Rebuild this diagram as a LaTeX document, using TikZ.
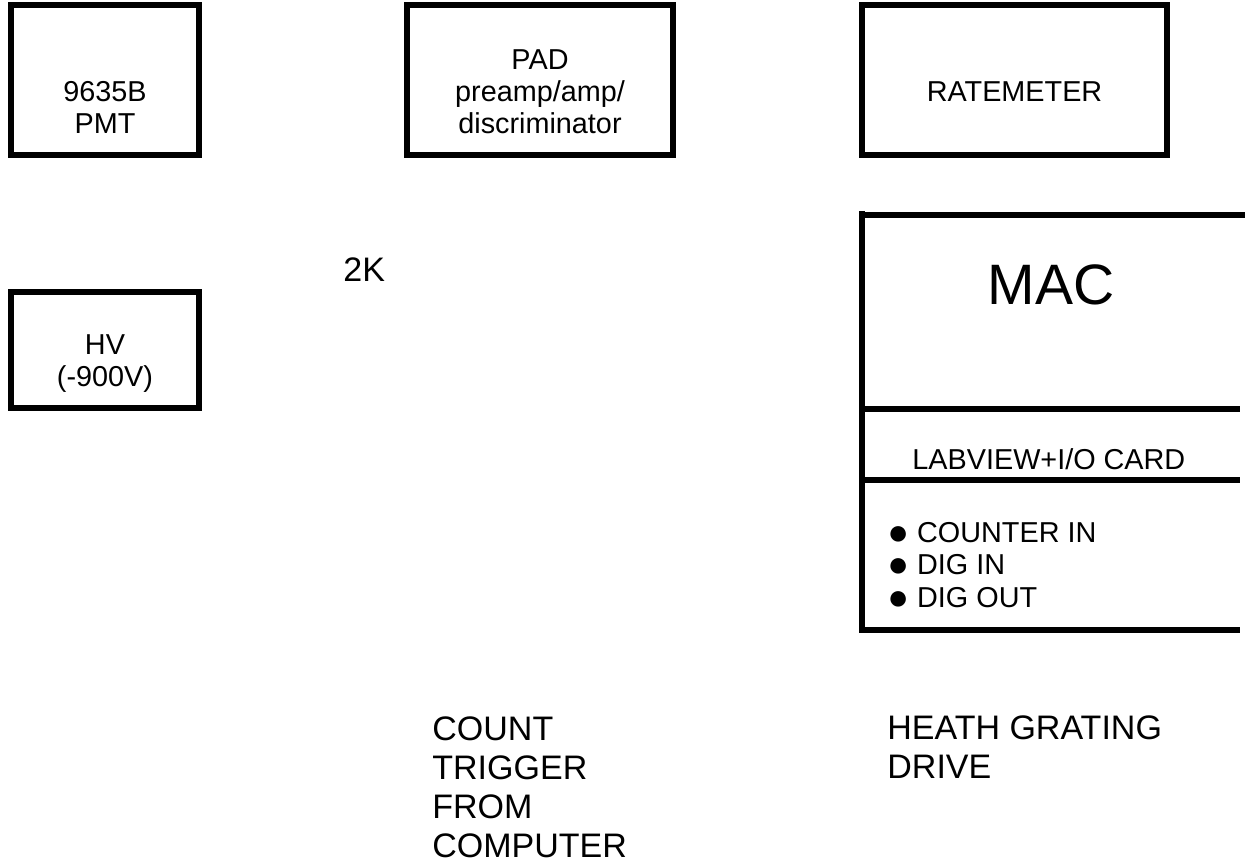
\documentclass[tikz,border=0pt]{standalone}
\usepackage{fontspec}
\setmainfont{Liberation Sans}
\newcommand{\cardbullet}{{\fontsize{18bp}{16bp}\selectfont\raisebox{-1.2bp}{●}}}
\tikzset{
  unitbox/.style={draw,line width=3bp,inner sep=0pt,minimum width=94bp,minimum height=75bp},
  boxtext/.style={inner sep=0pt,align=center,anchor=base,font=\fontsize{14.4bp}{16bp}\selectfont},
  leftnote/.style={inner sep=0pt,align=left,anchor=base west,font=\fontsize{17bp}{19.5bp}\selectfont},
  macline/.style={line width=3bp},
}
\begin{document}
\begin{tikzpicture}[x=0.5bp,y=-0.5bp,line join=miter]
\useasboundingbox (0,0) rectangle (1248,864);
%%
\node (pmt) at (105,80) [unitbox] {};
  \node (pad) at (540,80) [unitbox,minimum width=133bp] {};
  \node (ratemeter) at (1014.5,80) [unitbox,minimum width=152.5bp] {};
  \node (hv) at (105,349.75) [unitbox,minimum height=58.25bp] {};
% (base of a multi-line text is its last line)
\node (pmt_text) at (105,133) [boxtext] {9635B\\PMT};
  \node (pad_text) at (540,133) [boxtext] {PAD\\preamp/amp/\\discriminator};
  \node (ratemeter_text) at (1014.5,101) [boxtext] {RATEMETER};
  \node (hv_text) at (105,386) [boxtext] {HV\\(-900V)};
  \node (resistor_text) at (343,281) [leftnote] {2K};
%% MAC with its I/O card
\draw [macline] (862,211) -- (862,633);
  \draw [macline] (859,215) -- (1245,215);
  \draw [macline] (859,409) -- (1240,409);
  \draw [macline] (859,480) -- (1240,480);
  \draw [macline] (859,630) -- (1240,630);
  \node (mac_text) at (1051,304) [boxtext,font=\fontsize{28.5bp}{32bp}\selectfont] {MAC};
  \node (card_text) at (912,469) [boxtext,anchor=base west] {LABVIEW+I/O CARD};
  \node (card_list) at (887,607) [boxtext,anchor=base west,align=left,font=\fontsize{14.4bp}{16.25bp}\selectfont] {\cardbullet\ COUNTER IN\\\cardbullet\ DIG IN\\\cardbullet\ DIG OUT};
%
\node (trigger_text) at (432,857) [leftnote] {COUNT\\TRIGGER\\FROM\\COMPUTER};
  \node (drive_text) at (887,778) [leftnote] {HEATH GRATING\\DRIVE};
%
\end{tikzpicture}
\end{document}
